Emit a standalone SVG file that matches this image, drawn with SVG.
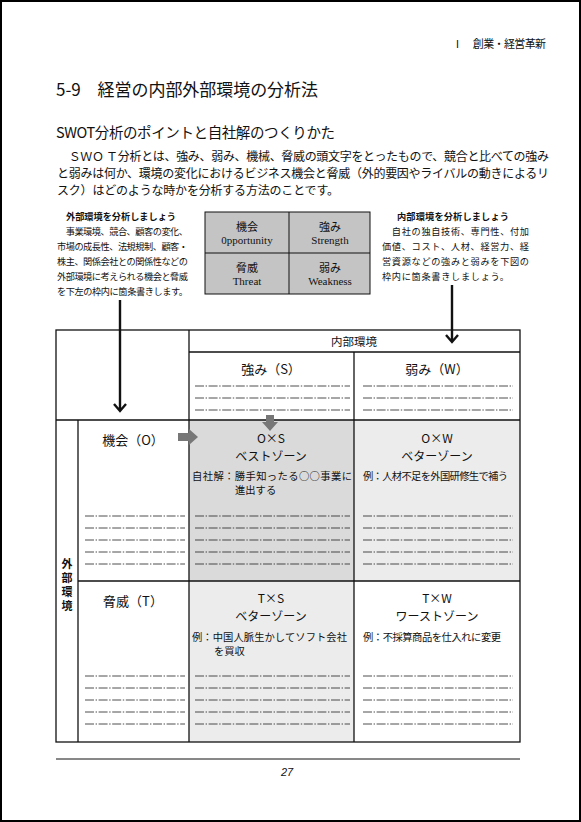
<svg xmlns="http://www.w3.org/2000/svg" width="581" height="822" viewBox="0 0 581 822">
<style>
text{font-family:"Noto Sans CJK JP","Noto Sans",sans-serif;fill:#111;dominant-baseline:central}
.en{font-family:"Liberation Serif",serif}
.c{text-anchor:middle}
.b{font-weight:bold}
.s9{font-size:9.2px}
.s10{font-size:10.3px}
.s11{font-size:11px}
.s13{font-size:13px}
.z{font-size:12px}
.ln{stroke:#111;stroke-width:1.3;fill:none}
.dl{stroke:#222;stroke-width:0.8;stroke-dasharray:9 1.6 1.4 1.6;fill:none}
.ar{stroke:#111;stroke-width:2.4;fill:none}
.ga{fill:#777}
</style>
<rect x="1" y="1" width="579" height="820" fill="#fff" stroke="#000" stroke-width="2"/>

<g id="header"><text x="452" y="43" class="s11" textLength="94">Ⅰ　創業・経営革新</text></g>
<g id="title"><text x="56" y="88" style="font-size:17px" textLength="262">5-9　経営の内部外部環境の分析法</text></g>
<g id="subtitle"><text x="56" y="131" style="font-size:14.5px" textLength="279">SWOT分析のポイントと自社解のつくりかた</text></g>
<g id="paragraph" style="font-size:12px">
<text x="57" y="155" textLength="492">　ＳＷＯ Ｔ分析とは、強み、弱み、機械、脅威の頭文字をとったもので、競合と比べての強み</text>
<text x="57" y="172" textLength="492">と弱みは何か、環境の変化におけるビジネス機会と脅威（外的要因やライバルの動きによるリ</text>
<text x="57" y="189" textLength="282">スク）はどのような時かを分析する方法のことです。</text>
</g>

<g id="external-note">
<text x="121" y="216" class="c b s9" textLength="110">外部環境を分析しましょう</text>
<text x="57" y="231" class="s9" textLength="131">　事業環境、競合、顧客の変化、</text>
<text x="57" y="246" class="s9" textLength="131">市場の成長性、法規規制、顧客・</text>
<text x="57" y="261" class="s9" textLength="131">株主、関係会社との関係性などの</text>
<text x="57" y="276" class="s9" textLength="131">外部環境に考えられる機会と脅威</text>
<text x="57" y="291" class="s9" textLength="131">を下左の枠内に箇条書きします。</text>
</g>

<g id="internal-note">
<text x="453" y="216" class="c b s9" textLength="112">内部環境を分析しましょう</text>
<text x="382" y="231" class="s9" textLength="147">　自社の独自技術、専門性、付加</text>
<text x="382" y="246" class="s9" textLength="147">価値、コスト、人材、経営力、経</text>
<text x="382" y="261" class="s9" textLength="147">営資源などの強みと弱みを下図の</text>
<text x="382" y="276" class="s9" textLength="127">枠内に箇条書きしましょう。</text>
</g>

<g id="swot-legend">
<rect x="205" y="212" width="165" height="82" fill="#c4c4c4" stroke="#111" stroke-width="1"/>
<line x1="289" y1="212" x2="289" y2="294" stroke="#111" stroke-width="1"/>
<line x1="205" y1="253" x2="370" y2="253" stroke="#111" stroke-width="1"/>
<text x="247" y="226" class="c s11">機会</text><text x="247" y="240" class="c s11 en">0pportunity</text>
<text x="330" y="226" class="c s11">強み</text><text x="330" y="240" class="c s11 en">Strength</text>
<text x="247" y="267" class="c s11">脅威</text><text x="247" y="281" class="c s11 en">Threat</text>
<text x="330" y="267" class="c s11">弱み</text><text x="330" y="281" class="c s11 en">Weakness</text>
</g>

<g id="table">
<rect x="189" y="420" width="165" height="161" fill="#dadada"/>
<rect x="354" y="420" width="166" height="161" fill="#ececec"/>
<rect x="189" y="581" width="165" height="161" fill="#ececec"/>
<rect x="56" y="330" width="464" height="412" class="ln"/>
<line x1="189" y1="330" x2="189" y2="742" class="ln"/>
<line x1="354" y1="352" x2="354" y2="742" class="ln"/>
<line x1="189" y1="352" x2="520" y2="352" class="ln"/>
<line x1="56" y1="420" x2="520" y2="420" class="ln"/>
<line x1="78" y1="581" x2="520" y2="581" class="ln"/>
<line x1="78" y1="420" x2="78" y2="742" class="ln"/>
</g>

<g id="head-internal"><text x="354" y="341" class="c" style="font-size:11.5px">内部環境</text></g>
<g id="head-S"><text x="271" y="368" class="c s13">強み（S）</text>
<path class="dl" d="M195 386H350M195 398H350M195 410H350"/></g>
<g id="head-W"><text x="437" y="368" class="c s13">弱み（W）</text>
<path class="dl" d="M363 386H513M363 398H513M363 410H513"/></g>

<g id="head-external">
<text x="67" y="558" class="b s11" style="writing-mode:vertical-rl;letter-spacing:3px">外部環境</text>
</g>

<g id="row-O"><text x="133" y="439" class="c s13">機会（O）</text>
<path class="dl" d="M85 516H185M85 528H185M85 540H185M85 552H185M85 564H185"/></g>
<g id="cell-OS"><text x="271" y="437" class="c z">O×S<tspan x="271" dy="17.6">ベストゾーン</tspan></text>
<text x="192" y="475" class="s10" textLength="160">自社解：勝手知ったる○○事業に</text>
<text x="235" y="489" class="s10">進出する</text>
<path class="dl" d="M195 516H350M195 528H350M195 540H350M195 552H350M195 564H350"/></g>
<g id="cell-OW"><text x="437" y="437" class="c z">O×W<tspan x="437" dy="17.6">ベターゾーン</tspan></text>
<text x="363" y="475" class="s10" textLength="145">例：人材不足を外国研修生で補う</text>
<path class="dl" d="M363 516H513M363 528H513M363 540H513M363 552H513M363 564H513"/></g>

<g id="row-T"><text x="133" y="600" class="c s13">脅威（T）</text>
<path class="dl" d="M85 676H185M85 688H185M85 700H185M85 712H185M85 724H185"/></g>
<g id="cell-TS"><text x="271" y="597" class="c z">T×S<tspan x="271" dy="17.6">ベターゾーン</tspan></text>
<text x="192" y="636" class="s10" textLength="155">例：中国人脈生かしてソフト会社</text>
<text x="214" y="650" class="s10">を買収</text>
<path class="dl" d="M195 676H350M195 688H350M195 700H350M195 712H350M195 724H350"/></g>
<g id="cell-TW"><text x="437" y="597" class="c z">T×W<tspan x="437" dy="17.6">ワーストゾーン</tspan></text>
<text x="363" y="636" class="s10" textLength="138">例：不採算商品を仕入れに変更</text>
<path class="dl" d="M363 676H513M363 688H513M363 700H513M363 712H513M363 724H513"/></g>

<g id="connectors">
<path class="ar" d="M120 300V411M114 404L120 411L126 404"/>
<path class="ar" d="M452 285V342M446 335L452 342L458 335"/>
<polygon class="ga" points="178,433 189,433 189,429 198,437 189,445 189,441 178,441"/>
<polygon class="ga" points="266,415 274,415 274,422 278,422 270,431 262,422 266,422"/>
</g>

<g id="footer">
<line x1="56" y1="759" x2="520" y2="759" stroke="#111" stroke-width="1"/>
<text x="287" y="772" class="c" style="font-family:'Liberation Sans',sans-serif;font-size:11px;font-style:italic">27</text>
</g>
</svg>
